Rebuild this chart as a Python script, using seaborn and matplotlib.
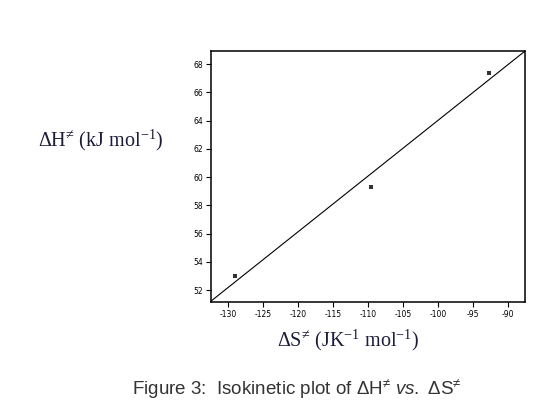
import numpy as np
import pandas as pd
import matplotlib
matplotlib.use("Agg")
import matplotlib.pyplot as plt
import seaborn as sns

# Activation parameters
delta_s = [-129.0, -109.6, -92.7]      # JK-1 mol-1
delta_h = [53.0, 59.3, 67.4]           # kJ mol-1
x_ticks = [-130, -125, -120, -115, -110, -105, -100, -95, -90]
y_ticks = [52, 54, 56, 58, 60, 62, 64, 66, 68]

df = pd.DataFrame({"dS": delta_s, "dH": delta_h})

sns.set_style("ticks")
plt.rcParams["font.family"] = ["DejaVu Sans"]
plt.rcParams["mathtext.fontset"] = "custom"
plt.rcParams["mathtext.it"] = "Liberation Sans:italic"
plt.rcParams["mathtext.rm"] = "Liberation Sans"

fig = plt.figure(figsize=(5.33, 4.05), dpi=100)
ax = fig.add_axes([0.396, 0.254, 0.589, 0.620])

ax.set_xlim(-132.4, -87.6)
ax.set_ylim(51.15, 68.92)

# least squares line across the whole frame
sns.regplot(data=df, x="dS", y="dH", ax=ax, ci=None, truncate=False,
            marker="s",
            scatter_kws=dict(s=12, color="black", linewidths=0),
            line_kws=dict(color="black", linewidth=0.8))
ax.set_xlim(-132.4, -87.6)
ax.set_ylim(51.15, 68.92)

ax.set_xticks(x_ticks)
ax.set_yticks(y_ticks)
ax.set_xticklabels([str(t) for t in x_ticks])
ax.set_yticklabels([str(t) for t in y_ticks])
ax.tick_params(axis="both", direction="out", length=3.5, width=0.8,
               labelsize=5.5, pad=2, colors="black")
for sp in ax.spines.values():
    sp.set_visible(True)
    sp.set_linewidth(1.1)
    sp.set_color("black")

ax.set_xlabel("")
ax.set_ylabel("")

lab_color = "#1c1c3a"
fig.text(0.188, 0.654, "ΔH$^{\\mathregular{≠}}$ (kJ mol$^{\\mathregular{-1}}$)",
         family="Liberation Serif", fontsize=14.5, color=lab_color,
         ha="center", va="center")
fig.text(0.653, 0.16, "ΔS$^{\\mathregular{≠}}$ (JK$^{\\mathregular{-1}}$ mol$^{\\mathregular{-1}}$)",
         family="Liberation Serif", fontsize=14.5, color=lab_color,
         ha="center", va="center")

fig.text(0.556, 0.04,
         "Figure 3:  Isokinetic plot of ΔH$^{\\mathregular{≠}}$ $\\it{vs.}$ ΔS$^{\\mathregular{≠}}$",
         family="Liberation Sans", fontsize=13.5, color="#333333",
         ha="center", va="center")

fig.savefig("out.png", dpi=100)
